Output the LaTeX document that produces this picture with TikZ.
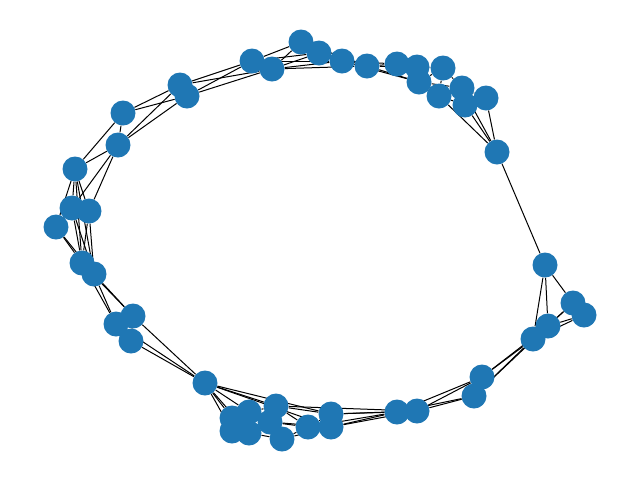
\documentclass[tikz,border=0pt]{standalone}
\usetikzlibrary{backgrounds}
\definecolor{nxblue}{HTML}{1F77B4}
\begin{document}
\begin{tikzpicture}[x=0.75pt,y=-0.75pt,
  vtx/.style={circle,fill=nxblue,minimum size=18.75pt,inner sep=0pt},
  edge/.style={draw=black,line width=0.75pt}]
\useasboundingbox (0,0) rectangle (640,480);
% top
\node[vtx] (t1) at (180,85) {};
\node[vtx] (t2) at (187,96) {};
\node[vtx] (t3) at (252,61) {};
\node[vtx] (t4) at (272,69) {};
\node[vtx] (t5) at (301,42) {};
\node[vtx] (t6) at (319,53) {};
\node[vtx] (t7) at (342,61) {};
\node[vtx] (t8) at (367,66) {};
\node[vtx] (t9) at (397,64) {};
\node[vtx] (t10) at (417,67) {};
\node[vtx] (t11) at (419,82) {};
\node[vtx] (t12) at (443,68) {};
\node[vtx] (t13) at (439,96) {};
\node[vtx] (t14) at (462,88) {};
\node[vtx] (t15) at (465,105) {};
\node[vtx] (t16) at (486,98) {};
\node[vtx] (t17) at (497,152) {};
% left
\node[vtx] (l1) at (123,113) {};
\node[vtx] (l2) at (118,145) {};
\node[vtx] (l3) at (75,169) {};
\node[vtx] (l4) at (72,208) {};
\node[vtx] (l5) at (89,211) {};
\node[vtx] (l6) at (56,227) {};
\node[vtx] (l7) at (82,263) {};
\node[vtx] (l8) at (94,274) {};
\node[vtx] (l9) at (133,316) {};
\node[vtx] (l10) at (116,324) {};
\node[vtx] (l11) at (131,341) {};
\node[vtx] (l12) at (205,383) {};
% bottom
\node[vtx] (b1) at (232,418) {};
\node[vtx] (b2) at (249,412) {};
\node[vtx] (b3) at (232,431) {};
\node[vtx] (b4) at (249,433) {};
\node[vtx] (b5) at (276,406) {};
\node[vtx] (b6) at (270,422) {};
\node[vtx] (b7) at (282,439) {};
\node[vtx] (b8) at (308,427) {};
\node[vtx] (b9) at (331,414) {};
\node[vtx] (b10) at (331,427) {};
\node[vtx] (b11) at (397,412) {};
\node[vtx] (b12) at (417,411) {};
\node[vtx] (b13) at (482,377) {};
\node[vtx] (b14) at (474,396) {};
% right
\node[vtx] (r1) at (545,265) {};
\node[vtx] (r2) at (573,303) {};
\node[vtx] (r3) at (584,315) {};
\node[vtx] (r4) at (548,326) {};
\node[vtx] (r5) at (533,339) {};
\begin{scope}[on background layer]
\foreach \a/\b in {t1/t2,t1/l1,t1/l2,t2/l1,t2/l2,
  t1/t3,t1/t4,t2/t3,t2/t4,t3/t4,
  t3/t5,t3/t6,t3/t7,t4/t5,t4/t6,t4/t7,t4/t8,
  t5/t6,t5/t7,t6/t7,t6/t8,t7/t8,t5/t8,
  t8/t9,t8/t10,t8/t11,t7/t9,t7/t11,
  t9/t10,t9/t11,t10/t11,t10/t12,t11/t12,t11/t13,t12/t13,t12/t14,
  t13/t14,t14/t15,t14/t16,t15/t16,t13/t15,t11/t14,
  t17/t13,t17/t14,t17/t15,t17/t16,t17/r1,
  r1/r2,r1/r4,r1/r5,r2/r3,r2/r4,r3/r4,r3/r5,r2/r5,r4/r5,
  r4/b13,r5/b13,r4/b14,r5/b14,
  b13/b14,b13/b11,b13/b12,b14/b11,b14/b12,b11/b12,
  b11/b9,b11/b10,b12/b9,b12/b10,b11/b8,b12/b5,
  b1/b2,b1/b3,b1/b4,b2/b3,b2/b4,b3/b4,b2/b5,b4/b6,b5/b6,b6/b7,b4/b7,
  b5/b8,b6/b8,b7/b8,b8/b9,b8/b10,b9/b10,b5/b9,b6/b10,b7/b10,
  l12/b1,l12/b2,l12/b3,l12/b4,l12/b5,l12/b9,l12/b10,
  l12/l9,l12/l10,l12/l11,l9/l10,l9/l11,l10/l11,
  l7/l10,l8/l9,l8/l10,l7/l9,l7/l8,
  l3/l7,l3/l8,l4/l7,l4/l8,l5/l7,l5/l8,l6/l7,l6/l8,
  l3/l4,l3/l5,l4/l5,l4/l6,l3/l6,
  l1/l2,l1/l3,l2/l3,l2/l4,l2/l5}
  \draw[edge] (\a) -- (\b);
\end{scope}
\end{tikzpicture}
\end{document}
